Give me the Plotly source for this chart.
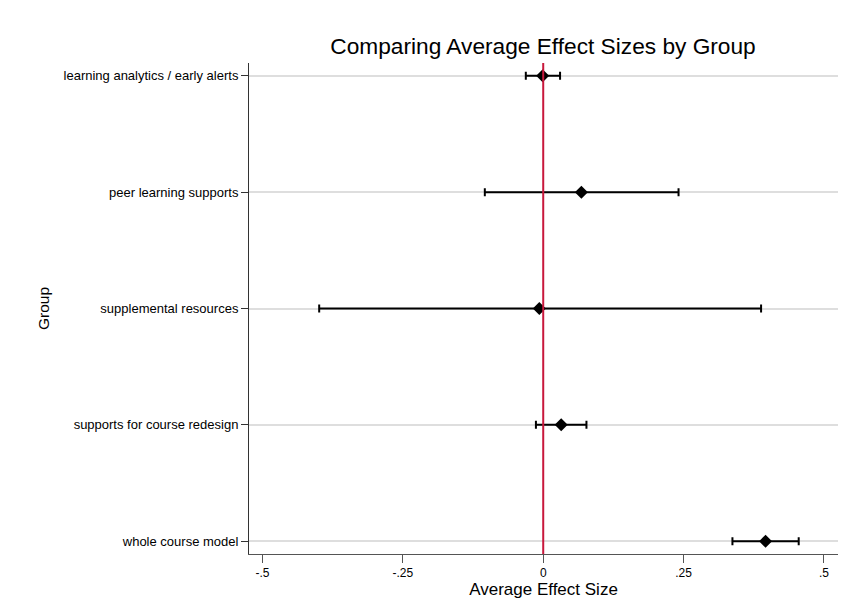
import plotly.graph_objects as go

groups = ["learning analytics / early alerts", "peer learning supports",
          "supplemental resources", "supports for course redesign", "whole course model"]
estimates = [-0.001, 0.068, -0.007, 0.032, 0.396]
ci_low = [-0.031, -0.104, -0.399, -0.013, 0.337]
ci_high = [0.030, 0.241, 0.388, 0.077, 0.455]
x_tickvals = [-0.5, -0.25, 0, 0.25, 0.5]
x_ticktext = ["-.5", "-.25", "0", ".25", ".5"]

err_plus = [h - e for h, e in zip(ci_high, estimates)]
err_minus = [e - l for e, l in zip(estimates, ci_low)]

fig = go.Figure()
fig.add_trace(go.Scatter(
    x=estimates, y=groups, mode="markers",
    marker=dict(symbol="diamond", size=10, color="black"),
    error_x=dict(type="data", symmetric=False, array=err_plus, arrayminus=err_minus,
                 color="black", thickness=2, width=4),
    showlegend=False,
))

fig.add_shape(type="line", xref="x", yref="paper", x0=0, x1=0, y0=0, y1=1,
              line=dict(color="#c8183c", width=2))

# page body has an 8px default margin; figure sized to fill the rest of the window
fig.update_layout(
    width=839, height=602,
    margin=dict(l=241, r=9, t=55, b=56),
    paper_bgcolor="white", plot_bgcolor="white",
    font=dict(family="Liberation Sans, Arial, sans-serif", color="black"),
    title=dict(text="Comparing Average Effect Sizes by Group", x=0.6377, xanchor="center",
               y=0.936, yanchor="middle", font=dict(size=22.7, color="black")),
    xaxis=dict(range=[-0.524, 0.525], tickvals=x_tickvals, ticktext=x_ticktext,
               showgrid=False, zeroline=False, showline=True, linecolor="#555555", linewidth=1,
               ticks="outside", ticklen=8, tickcolor="#555555", tickfont=dict(size=12),
               title=dict(text="Average Effect Size", font=dict(size=17), standoff=2)),
    yaxis=dict(type="category", categoryorder="array", categoryarray=groups,
               range=[4.11, -0.11], showgrid=True, gridcolor="#dedede", gridwidth=2,
               zeroline=False, showline=True, linecolor="#333333", linewidth=1,
               ticks="outside", ticklen=7, tickcolor="#333333", tickfont=dict(size=13),
               title=dict(text="Group", font=dict(size=15.5), standoff=10)),
)

fig.write_html("out.html")
